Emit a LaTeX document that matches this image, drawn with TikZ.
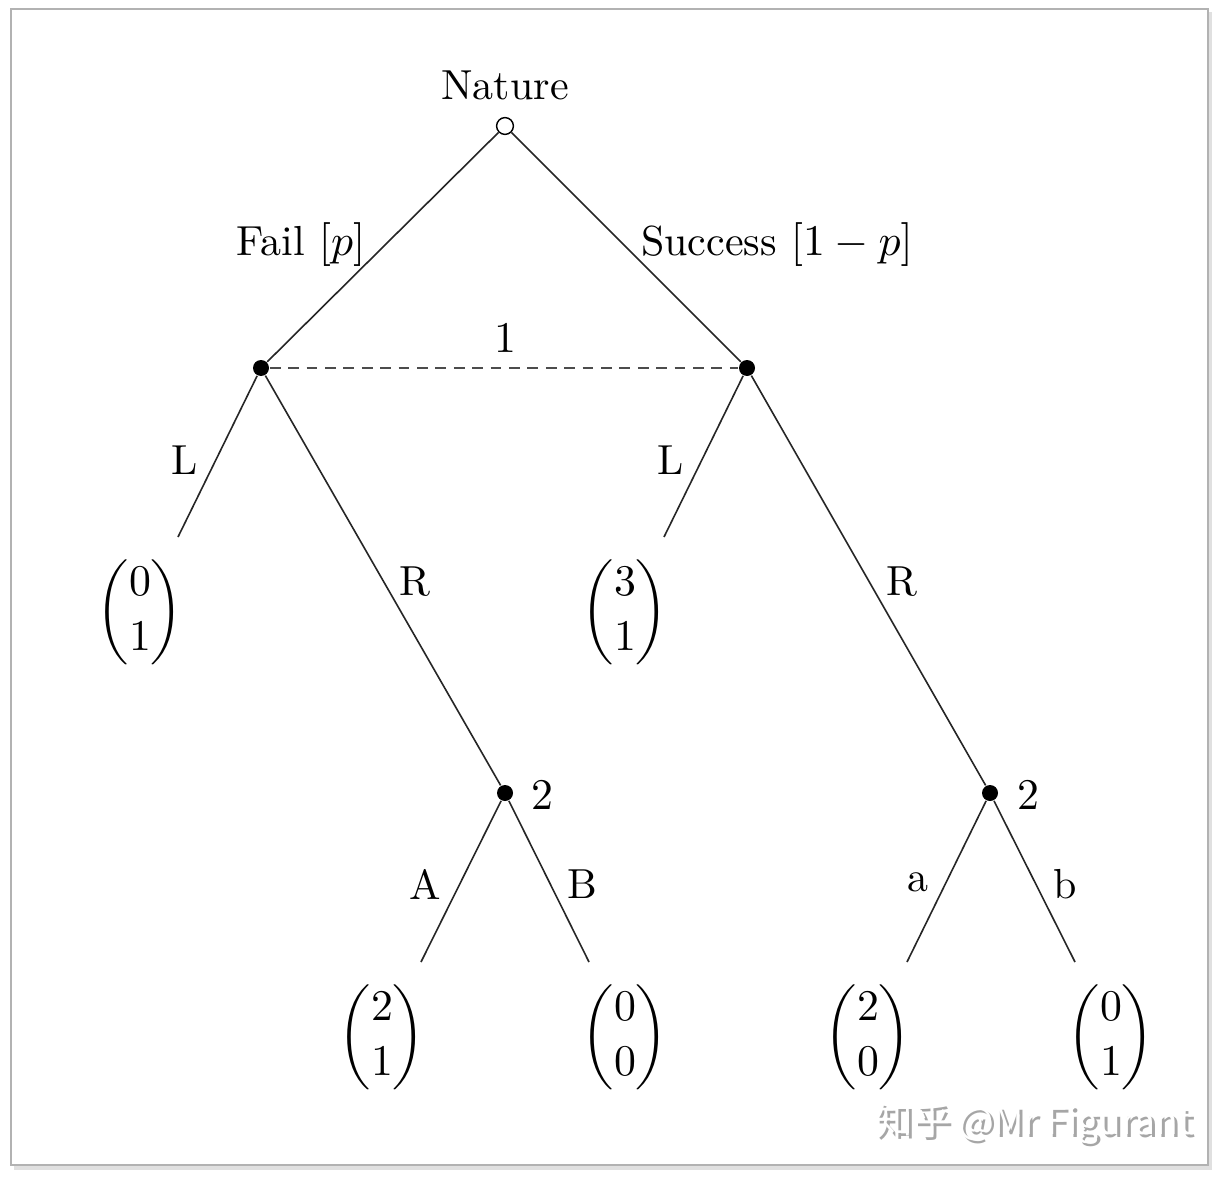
\documentclass[tikz,border=0pt]{standalone}
\usepackage{amsmath}
\usepackage{fontspec}
\newfontfamily\cjkfont{Noto Sans CJK SC}
\begin{document}
\begin{tikzpicture}[x=0.25pt,y=-0.25pt,
  every node/.style={font=\fontsize{10.5}{12.6}\selectfont, inner sep=0pt},
  dec/.style={circle, fill=black, minimum size=4pt, inner sep=0pt},
  chance/.style={circle, draw=black, fill=white, minimum size=4.2pt, inner sep=0pt, line width=0.35pt},
  edge/.style={line width=0.4pt, black!85},
  lab/.style={},
  pay/.style={font=\fontsize{11}{13.2}\selectfont},
  wm/.style={font=\cjkfont\fontsize{9.3}{11}\selectfont}
]
\useasboundingbox (0,0) rectangle (1220,1177);
% frame
\fill[black!12] (14,12) rectangle (1212,1170);
\fill[white] (11,9) rectangle (1208,1165);
\draw[black!30, line width=0.5pt] (11,9) rectangle (1208,1165);

% decision nodes
\node[chance] (N) at (505,126) {};
\node[dec] (A1) at (261,368) {};
\node[dec] (B1) at (747,368) {};
\node[dec] (A2) at (505,793) {};
\node[dec] (B2) at (990,793) {};

% free ends
\coordinate (aL) at (178,537);
\coordinate (bL) at (664,537);
\coordinate (aA) at (421,962);
\coordinate (aB) at (589,962);
\coordinate (ba) at (907,962);
\coordinate (bb) at (1075,962);

% edges
\draw[edge] (N) -- (A1);
\draw[edge] (N) -- (B1);
\draw[edge, dash pattern=on 2.7pt off 1.9pt, black!70] (A1) -- (B1);
\draw[edge] (A1) -- (aL);
\draw[edge] (A1) -- (A2);
\draw[edge] (B1) -- (bL);
\draw[edge] (B1) -- (B2);
\draw[edge] (A2) -- (aA);
\draw[edge] (A2) -- (aB);
\draw[edge] (B2) -- (ba);
\draw[edge] (B2) -- (bb);

% labels
\node[lab] (tN) at (505,85) {Nature};
\node[lab] (tFail) at (301,245) {Fail $[p]$};
\node[lab] (tSucc) at (777,245) {Success $[1-p]$};
\node[lab] (t1) at (505,338) {$1$};
\node[lab] (tL1) at (185,460) {L};
\node[lab] (tR1) at (415,582) {R};
\node[lab] (tL2) at (671,460) {L};
\node[lab] (tR2) at (902,582) {R};
\node[lab] (t2a) at (542,795) {$2$};
\node[lab] (t2b) at (1028,795) {$2$};
\node[lab] (tA) at (425,884) {A};
\node[lab] (tB) at (582,884) {B};
\node[lab] (ta) at (918,882) {a};
\node[lab] (tb) at (1065,884) {b};

% payoffs
\renewcommand{\arraystretch}{1.05}
\node[pay] (p1) at (140,612) {$\begin{pmatrix}0\\1\end{pmatrix}$};
\node[pay] (p2) at (625,612) {$\begin{pmatrix}3\\1\end{pmatrix}$};
\node[pay] (p3) at (382,1037) {$\begin{pmatrix}2\\1\end{pmatrix}$};
\node[pay] (p4) at (625,1037) {$\begin{pmatrix}0\\0\end{pmatrix}$};
\node[pay] (p5) at (868,1037) {$\begin{pmatrix}2\\0\end{pmatrix}$};
\node[pay] (p6) at (1111,1037) {$\begin{pmatrix}0\\1\end{pmatrix}$};

% watermark
\node[wm, text=black!35] (wms) at (1037,1126) {知乎 @Mr Figurant};
\node[wm, text=white] (wm) at (1034,1123) {知乎 @Mr Figurant};
\end{tikzpicture}
\end{document}
